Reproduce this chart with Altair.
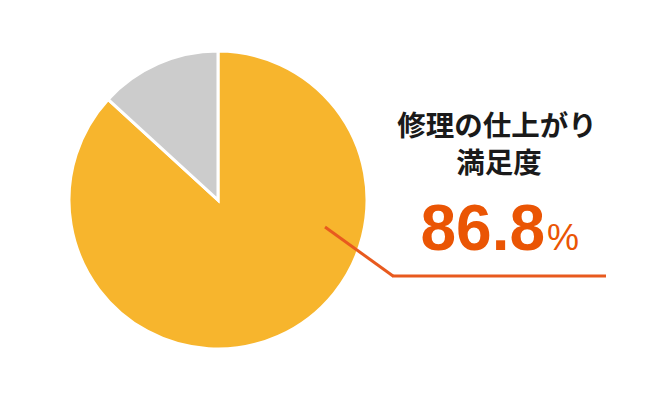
import altair as alt
import pandas as pd

labels = ["満足", "その他"]
values = [86.8, 13.2]
colors = ["#F7B52D", "#CCCCCC"]
title_lines = ["修理の仕上がり", "満足度"]
value_text = ["86.8"]
unit_text = ["%"]

pie_df = pd.DataFrame({"label": labels, "value": values, "order": [0, 1]})

pie = alt.Chart(pie_df).mark_arc(radius=149, stroke="white", strokeWidth=3).encode(
    theta=alt.Theta("value:Q", stack=True),
    order=alt.Order("order:Q"),
    color=alt.Color("label:N", scale=alt.Scale(domain=labels, range=colors), legend=None),
    x=alt.value(210),
    y=alt.value(192),
)

line_color = "#E85A1E"
diag = alt.Chart(pd.DataFrame({"a": [0]})).mark_rule(color=line_color, strokeWidth=3).encode(
    x=alt.value(317), y=alt.value(219), x2=alt.value(385), y2=alt.value(268)
)
horiz = alt.Chart(pd.DataFrame({"a": [0]})).mark_rule(color=line_color, strokeWidth=3).encode(
    x=alt.value(384), y=alt.value(268), x2=alt.value(598), y2=alt.value(268)
)

t1 = alt.Chart(pd.DataFrame({"t": [title_lines[0]]})).mark_text(
    font="Noto Sans CJK JP", fontWeight="bold", fontSize=28.5, color="#1a1a1a",
    align="center", baseline="middle"
).encode(text="t:N", x=alt.value(489), y=alt.value(119))

t2 = alt.Chart(pd.DataFrame({"t": [title_lines[1]]})).mark_text(
    font="Noto Sans CJK JP", fontWeight="bold", fontSize=28.5, color="#1a1a1a",
    align="center", baseline="middle"
).encode(text="t:N", x=alt.value(491), y=alt.value(156))

num = alt.Chart(pd.DataFrame({"t": value_text})).mark_text(
    font="Liberation Sans", fontWeight="bold", fontSize=64, color="#EA5504",
    align="right", baseline="alphabetic"
).encode(text="t:N", x=alt.value(537), y=alt.value(242))

pct = alt.Chart(pd.DataFrame({"t": unit_text})).mark_text(
    font="Liberation Sans", fontWeight="normal", fontSize=36, color="#EA5504",
    align="left", baseline="alphabetic"
).encode(text="t:N", x=alt.value(539), y=alt.value(242))

chart = alt.layer(pie, diag, horiz, t1, t2, num, pct).properties(
    width=654, height=386, autosize=alt.AutoSizeParams(type="none"), padding=0,
    background="white"
).configure_view(stroke=None)

chart.save("out.html", embed_options={"renderer": "svg", "actions": False})
